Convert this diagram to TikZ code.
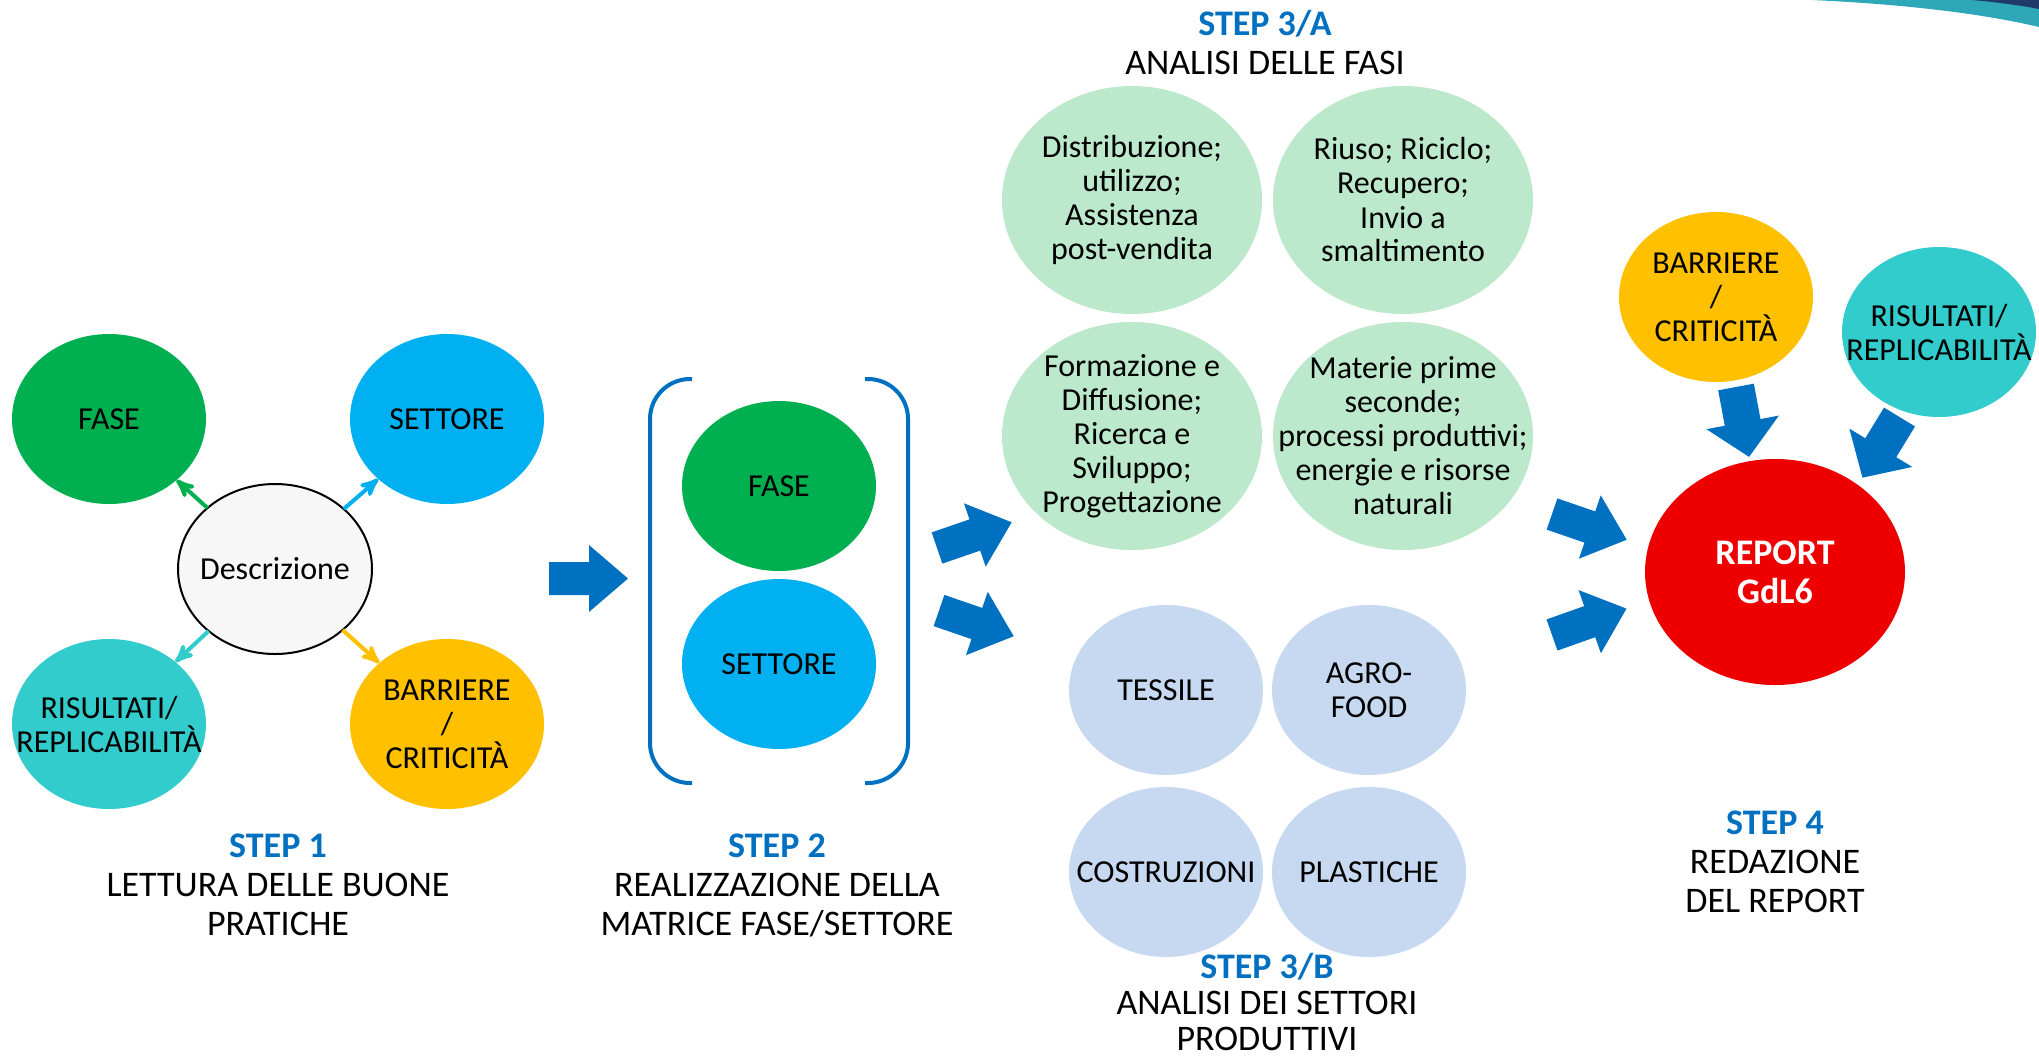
\documentclass[tikz,border=0pt]{standalone}
\usepackage{fontspec}
\setmainfont{Carlito}
\usepackage{tikz}
\usetikzlibrary{arrows, shapes.geometric, positioning}

\definecolor{fasegreen}{HTML}{00B050}
\definecolor{settblue}{HTML}{00B0F0}
\definecolor{risteal}{HTML}{33CCCC}
\definecolor{barrorange}{HTML}{FFC000}
\definecolor{descgrey}{HTML}{F7F7F7}
\definecolor{phasemint}{HTML}{BCE8CC}
\definecolor{sectorblue}{HTML}{C6D9F1}
\definecolor{reportred}{HTML}{EE0000}
\definecolor{arrowblue}{HTML}{0070C0}
\definecolor{stepblue}{HTML}{0070C0}
\definecolor{decoteal}{HTML}{2EA7B8}
\definecolor{deconavy}{HTML}{1F3A68}

\begin{document}
\begin{tikzpicture}[x=0.5pt, y=-0.5pt, >=stealth', semithick, align=center,
    inner sep=0pt, outer sep=0pt,
    every node/.style={font=\fontsize{16}{17}\selectfont},
    blockarrow/.pic={\fill[arrowblue] (0,-16.5) -- (40,-16.5) -- (40,-33.5)
      -- (79,0) -- (40,33.5) -- (40,16.5) -- (0,16.5) -- cycle;}]

  \tikzstyle{bubble}=[ellipse, minimum width=97pt, minimum height=85pt]
  \tikzstyle{bigbubble}=[ellipse, minimum width=130pt, minimum height=114pt]
  \tikzstyle{steplabel}=[font=\fontsize{18}{19.5}\selectfont]

  \fill[white] (0,0) rectangle (2039,1061);
  \useasboundingbox (0,0) rectangle (2039,1061);

  % corner swoosh
  \fill[decoteal] (1812,0) .. controls (1900,4) and (1980,13) .. (2039,27)
  -- (2039,0) -- cycle;
  \fill[deconavy] (1972,0) .. controls (1995,2) and (2018,5) .. (2039,9)
  -- (2039,0) -- cycle;

  % step 1
  \node[bubble, fill=descgrey, draw=black, line width=1pt,
  label={center:Descrizione}] (DESC) at (275,569) {};
  \node[bubble, fill=fasegreen, label={center:FASE}] (FASE1) at (109,419) {};
  \node[bubble, fill=settblue, node distance=169pt,
  label={center:SETTORE}] (SETT1) [right of=FASE1] {};
  \node[bubble, fill=risteal, node distance=152.5pt,
  label={center:RISULTATI/\\REPLICABILITÀ}] (RIS1) [below of=FASE1] {};
  \node[bubble, fill=barrorange, node distance=169pt,
  label={center:BARRIERE\\/\\CRITICITÀ}] (BARR1) [right of=RIS1] {};

  \path[->, line width=2pt]
  (DESC) edge [fasegreen] (FASE1)
  edge [settblue] (SETT1)
  edge [risteal] (RIS1)
  edge [barrorange] (BARR1);

  \node[steplabel] (STEP1) at (278,885)
  {{\bfseries\color{stepblue}STEP 1}\\LETTURA DELLE BUONE\\PRATICHE};

  % step 2
  \node[bubble, fill=fasegreen, label={center:FASE}] (FASE2) at (779,486) {};
  \node[bubble, fill=settblue, node distance=89pt,
  label={center:SETTORE}] (SETT2) [below of=FASE2] {};
  \draw[arrowblue, line width=2pt, rounded corners=20pt]
  (692,379) -- (650,379) -- (650,783) -- (692,783);
  \draw[arrowblue, line width=2pt, rounded corners=20pt]
  (865,379) -- (908,379) -- (908,783) -- (865,783);

  \node[steplabel] (STEP2) at (777,885)
  {{\bfseries\color{stepblue}STEP 2}\\REALIZZAZIONE DELLA\\MATRICE FASE/SETTORE};

  % step 3/A
  \node[steplabel] (STEP3A) at (1265,42)
  {{\bfseries\color{stepblue}STEP 3/A}\\ANALISI DELLE FASI};
  \node[bigbubble, fill=phasemint,
  label={center:Distribuzione;\\utilizzo;\\Assistenza\\post-vendita}]
  (DISTR) at (1132,200) {};
  \node[bigbubble, fill=phasemint, node distance=135.5pt,
  label={center:Riuso; Riciclo;\\Recupero;\\Invio a\\smaltimento}]
  (RIUSO) [right of=DISTR] {};
  \node[bigbubble, fill=phasemint, node distance=118pt,
  label={center:Formazione e\\Diffusione;\\Ricerca e\\Sviluppo;\\Progettazione}]
  (FORMAZ) [below of=DISTR] {};
  \node[bigbubble, fill=phasemint, node distance=135.5pt,
  label={center:Materie prime\\seconde;\\processi produttivi;\\energie e risorse\\naturali}]
  (MATER) [right of=FORMAZ] {};

  % step 3/B
  \node[bubble, fill=sectorblue, label={center:TESSILE}] (TESS) at (1166,690) {};
  \node[bubble, fill=sectorblue, node distance=101.5pt,
  label={center:AGRO-\\FOOD}] (AGRO) [right of=TESS] {};
  \node[bubble, fill=sectorblue, node distance=91pt,
  label={center:COSTRUZIONI}] (COSTR) [below of=TESS] {};
  \node[bubble, fill=sectorblue, node distance=101.5pt,
  label={center:PLASTICHE}] (PLAST) [right of=COSTR] {};

  \node[steplabel, font=\fontsize{18}{18}\selectfont] (STEP3B) at (1267,1002)
  {{\bfseries\color{stepblue}STEP 3/B}\\ANALISI DEI SETTORI\\PRODUTTIVI};

  % step 4
  \node[ellipse, minimum width=130pt, minimum height=113pt, fill=reportred,
  label={[font=\bfseries\fontsize{18}{19.5}\selectfont, text=white]center:REPORT\\GdL6}]
  (REPORT) at (1775,572) {};
  \node[bubble, fill=barrorange, label={center:BARRIERE\\/\\CRITICITÀ}]
  (BARR4) at (1716,297) {};
  \node[bubble, fill=risteal, label={center:RISULTATI/\\REPLICABILITÀ}]
  (RIS4) at (1939,332) {};

  \node[steplabel] (STEP4) at (1775,862)
  {{\bfseries\color{stepblue}STEP 4}\\REDAZIONE\\DEL REPORT};

  % block arrows
  \pic at (549,578.5) {blockarrow};
  \pic[rotate=19] at (937,548) {blockarrow};
  \pic[rotate=-19] at (939,610.5) {blockarrow};
  \pic[rotate=-19] at (1552,514) {blockarrow};
  \pic[rotate=19.5] at (1552,635) {blockarrow};
  \pic[rotate=-79.4, xscale=0.9, yscale=1.1] at (1736,387) {blockarrow};
  \pic[rotate=-121.4, xscale=0.9, yscale=1.1] at (1899.5,417) {blockarrow};
\end{tikzpicture}
\end{document}
